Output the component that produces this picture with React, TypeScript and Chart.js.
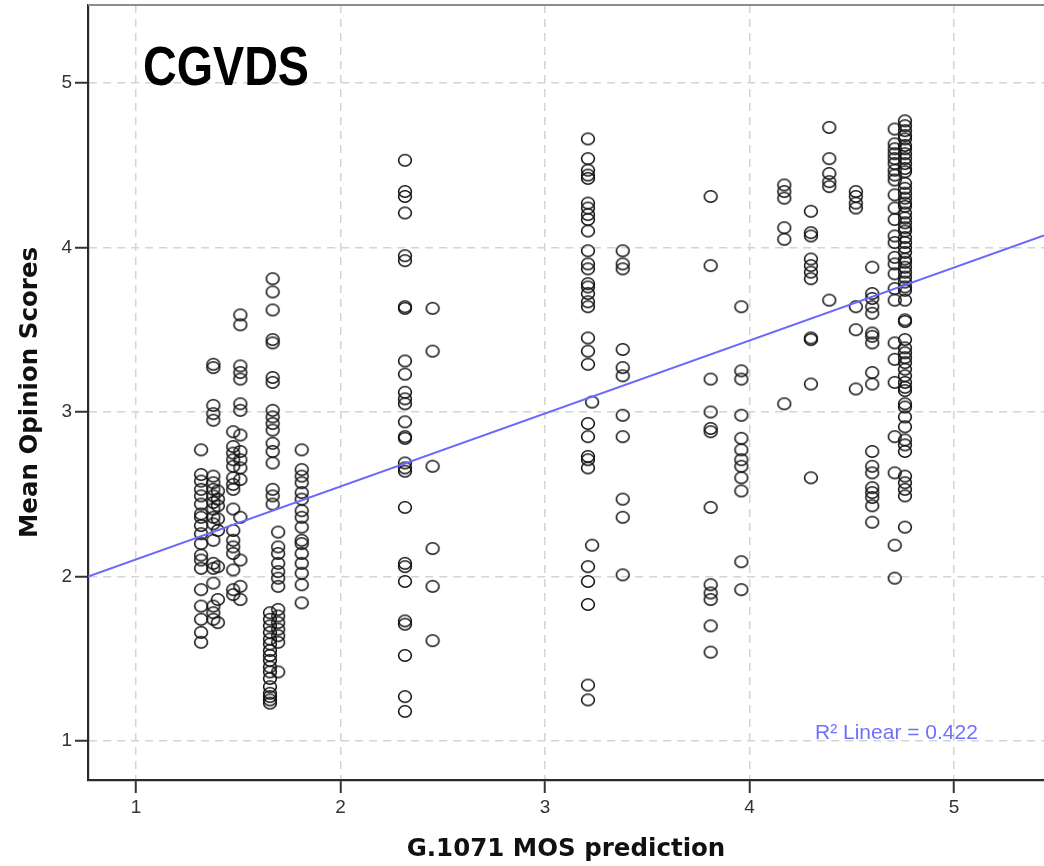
import React, { useEffect, useRef } from "react";
import { Chart, registerables } from "chart.js";

Chart.register(...registerables);

// ---- axes ----
const X_TICKS = [1, 2, 3, 4, 5];
const Y_TICKS = [1, 2, 3, 4, 5];
const X_MIN = 0.765;
const X_MAX = 5.44;
const Y_MIN = 0.763;
const Y_MAX = 5.474;
const X_TITLE = "G.1071 MOS prediction";
const Y_TITLE = "Mean Opinion Scores";
const PANEL_LABEL = "CGVDS";
const R2_LABEL = "R\u00B2 Linear = 0.422";

// ---- linear fit ----
const FIT_INTERCEPT = 1.661;
const FIT_SLOPE = 0.4435;

// ---- scatter columns: x position of each column ----
const COLUMN_X = [
  1.318, 1.378, 1.4, 1.475, 1.51, 1.668, 1.695, 1.655, 1.81,
  2.315, 2.45,
  3.21, 3.23, 3.38, 3.81, 3.96,
  4.17, 4.3, 4.39, 4.52, 4.6, 4.71, 4.76,
];

// ---- scatter columns: MOS values of each column ----
const colA = [2.77, 2.62, 2.58, 2.53, 2.49, 2.44, 2.38, 2.36, 2.31, 2.26, 2.2, 2.13, 2.1, 2.05, 1.92, 1.82, 1.74, 1.66, 1.6];
const colB1 = [3.29, 3.27, 3.04, 2.99, 2.95, 2.61, 2.57, 2.53, 2.49, 2.45, 2.41, 2.36, 2.32, 2.22, 2.08, 2.05, 1.96, 1.82, 1.78, 1.74];
const colB2 = [2.52, 2.47, 2.43, 2.35, 2.28, 2.06, 1.86, 1.72];
const colC1 = [2.88, 2.79, 2.75, 2.71, 2.67, 2.6, 2.56, 2.53, 2.41, 2.28, 2.22, 2.18, 2.14, 2.04, 1.92, 1.89];
const colC2 = [3.59, 3.53, 3.28, 3.24, 3.2, 3.05, 3.01, 2.86, 2.76, 2.71, 2.66, 2.59, 2.36, 2.1, 1.94, 1.86];
const colD1 = [3.81, 3.73, 3.62, 3.44, 3.42, 3.21, 3.18, 3.01, 2.97, 2.93, 2.89, 2.81, 2.76, 2.69, 2.53, 2.49, 2.44];
const colD2 = [2.27, 2.18, 2.14, 2.08, 2.03, 1.99, 1.94, 1.8, 1.76, 1.72, 1.68, 1.64, 1.6, 1.42];
const colD3 = [1.78, 1.74, 1.7, 1.66, 1.62, 1.59, 1.55, 1.52, 1.49, 1.45, 1.42, 1.38, 1.33, 1.29, 1.27, 1.25, 1.23];
const colE = [2.77, 2.65, 2.61, 2.57, 2.51, 2.47, 2.4, 2.36, 2.3, 2.22, 2.2, 2.14, 2.08, 2.02, 1.95, 1.84];
const colF = [4.53, 4.34, 4.31, 4.21, 3.95, 3.92, 3.64, 3.63, 3.31, 3.23, 3.12, 3.08, 3.05, 2.94, 2.85, 2.84, 2.69, 2.66, 2.64, 2.42, 2.08, 2.06, 1.97, 1.73, 1.71, 1.52, 1.27, 1.18];
const colG = [3.63, 3.37, 2.67, 2.17, 1.94, 1.61];
const colH1 = [4.66, 4.54, 4.47, 4.44, 4.42, 4.27, 4.24, 4.2, 4.17, 4.1, 3.98, 3.9, 3.87, 3.78, 3.76, 3.72, 3.67, 3.64, 3.45, 3.37, 3.29, 2.93, 2.85, 2.73, 2.71, 2.66, 2.06, 1.97, 1.83, 1.34, 1.25];
const colH2 = [3.06, 2.19];
const colI = [3.98, 3.9, 3.87, 3.38, 3.27, 3.22, 2.98, 2.85, 2.47, 2.36, 2.01];
const colJ = [4.31, 3.89, 3.2, 3.0, 2.9, 2.88, 2.42, 1.95, 1.9, 1.86, 1.7, 1.54];
const colK = [3.64, 3.25, 3.2, 2.98, 2.84, 2.77, 2.71, 2.67, 2.6, 2.52, 2.09, 1.92];
const colL = [4.38, 4.34, 4.3, 4.12, 4.05, 3.05];
const colM = [4.22, 4.09, 4.07, 3.93, 3.89, 3.85, 3.81, 3.45, 3.44, 3.17, 2.6];
const colN = [4.73, 4.54, 4.45, 4.4, 4.37, 3.68];
const colO = [4.34, 4.31, 4.27, 4.24, 3.64, 3.5, 3.14];
const colP = [3.88, 3.72, 3.69, 3.64, 3.6, 3.48, 3.46, 3.42, 3.24, 3.17, 2.76, 2.67, 2.63, 2.54, 2.51, 2.48, 2.43, 2.33];
const colQ1 = [4.72, 4.63, 4.6, 4.57, 4.54, 4.51, 4.47, 4.44, 4.41, 4.32, 4.24, 4.17, 4.07, 4.03, 3.94, 3.9, 3.84, 3.75, 3.68, 3.42, 3.32, 3.18, 2.85, 2.63, 2.19, 1.99];
const colQ2 = [4.77, 4.74, 4.71, 4.68, 4.66, 4.62, 4.6, 4.57, 4.54, 4.51, 4.48, 4.46, 4.39, 4.36, 4.33, 4.3, 4.27, 4.25, 4.21, 4.18, 4.15, 4.12, 4.1, 4.06, 4.03, 4.0, 3.97, 3.93, 3.91, 3.88, 3.85, 3.82, 3.79, 3.76, 3.74, 3.68, 3.56, 3.55, 3.44, 3.39, 3.36, 3.33, 3.3, 3.26, 3.22, 3.18, 3.15, 3.13, 3.05, 3.03, 2.97, 2.91, 2.83, 2.8, 2.76, 2.61, 2.57, 2.53, 2.49, 2.3];

const COLUMN_Y = [
  colA, colB1, colB2, colC1, colC2, colD1, colD2, colD3, colE,
  colF, colG,
  colH1, colH2, colI, colJ, colK,
  colL, colM, colN, colO, colP, colQ1, colQ2,
];

const FIT_COLOR = "rgb(105,105,255)";
const LABEL_COLOR = "rgb(112,112,255)";

function makeRing(): HTMLCanvasElement {
  const c = document.createElement("canvas");
  c.width = 16;
  c.height = 15;
  const g = c.getContext("2d")!;
  g.strokeStyle = "#141414";
  g.lineWidth = 1.55;
  g.beginPath();
  g.ellipse(8, 7.5, 6.4, 5.7, 0, 0, Math.PI * 2);
  g.stroke();
  return c;
}

const decorPlugin = {
  id: "decor",
  afterDraw(chart: any) {
    const { ctx, chartArea } = chart;
    ctx.save();
    // top frame line
    ctx.strokeStyle = "#8c8c8c";
    ctx.lineWidth = 2;
    ctx.beginPath();
    ctx.moveTo(chartArea.left, chartArea.top);
    ctx.lineTo(chartArea.right, chartArea.top);
    ctx.stroke();

    // panel label
    ctx.fillStyle = "#000";
    ctx.font = 'bold 56px "Liberation Sans", Arial, sans-serif';
    ctx.textBaseline = "alphabetic";
    ctx.textAlign = "left";
    const w = ctx.measureText(PANEL_LABEL).width;
    const targetW = 166;
    ctx.save();
    ctx.translate(chartArea.left + 55, chartArea.top + 80);
    ctx.scale(targetW / w, 1);
    ctx.fillText(PANEL_LABEL, 0, 0);
    ctx.restore();

    // R2 label
    ctx.fillStyle = LABEL_COLOR;
    ctx.font = '21px "Liberation Sans", Arial, sans-serif';
    ctx.fillText(R2_LABEL, chartArea.left + 727, chartArea.bottom - 41);
    ctx.restore();
  },
};

function zeroPad(s: any) {
  s.paddingLeft = 0;
  s.paddingRight = 0;
  s.paddingTop = 0;
  s.paddingBottom = 0;
}

export default function App() {
  const ref = useRef<HTMLCanvasElement | null>(null);

  useEffect(() => {
    if (!ref.current) return;
    const ring = makeRing();
    const points: { x: number; y: number }[] = [];
    COLUMN_Y.forEach((ys, i) => {
      ys.forEach((y) => points.push({ x: COLUMN_X[i], y }));
    });
    const fitLine = [X_MIN, X_MAX].map((x) => ({ x, y: FIT_INTERCEPT + FIT_SLOPE * x }));

    const tickFont = { family: '"Liberation Sans", Arial, sans-serif', size: 19 };
    const titleFont = { family: '"DejaVu Sans", sans-serif', size: 24.5, weight: "bold" as const };

    const chart = new Chart(ref.current, {
      type: "scatter",
      data: {
        datasets: [
          {
            type: "line",
            data: fitLine,
            borderColor: FIT_COLOR,
            borderWidth: 2,
            pointRadius: 0,
            fill: false,
            order: 0,
          } as any,
          {
            type: "scatter",
            data: points,
            pointStyle: ring as any,
            pointRadius: 6,
            borderColor: "#141414",
            backgroundColor: "rgba(0,0,0,0)",
            order: 1,
          },
        ],
      },
      options: {
        responsive: false,
        animation: false,
        devicePixelRatio: 1,
        layout: { autoPadding: false, padding: { top: 5, left: 0, right: 0, bottom: 0 } },
        plugins: { legend: { display: false }, tooltip: { enabled: false } },
        scales: {
          x: {
            type: "linear",
            min: X_MIN,
            max: X_MAX,
            afterBuildTicks: (s: any) => {
              s.ticks = X_TICKS.map((v) => ({ value: v }));
            },
            afterFit: (s: any) => {
              s.height = 86;
              zeroPad(s);
            },
            ticks: {
              font: tickFont,
              color: "#333",
              padding: 3,
              autoSkip: false,
              maxRotation: 0,
              callback: (v: any) => String(v),
            },
            grid: {
              color: "#d4d4d4",
              lineWidth: 1.5,
              tickColor: "#333",
              tickLength: 13,
              tickWidth: 2,
            },
            border: { color: "#2a2a2a", width: 2.2, dash: [8, 6] },
            title: {
              display: true,
              text: X_TITLE,
              font: titleFont,
              color: "#111",
              padding: { top: 0, bottom: 2 },
            },
          },
          y: {
            type: "linear",
            min: Y_MIN,
            max: Y_MAX,
            afterBuildTicks: (s: any) => {
              s.ticks = Y_TICKS.map((v) => ({ value: v }));
            },
            afterFit: (s: any) => {
              s.width = 88;
              zeroPad(s);
            },
            ticks: {
              font: tickFont,
              color: "#333",
              padding: 3,
              autoSkip: false,
              callback: (v: any) => String(v),
            },
            grid: {
              color: "#d4d4d4",
              lineWidth: 1.5,
              tickColor: "#333",
              tickLength: 13,
              tickWidth: 2,
            },
            border: { color: "#2a2a2a", width: 2.2, dash: [8, 6] },
            title: {
              display: true,
              text: Y_TITLE,
              font: titleFont,
              color: "#111",
              padding: { top: 16, bottom: 0 },
            },
          },
        },
      },
      plugins: [decorPlugin],
    });
    return () => chart.destroy();
  }, []);

  return (
    <div style={{ position: "absolute", left: 0, top: 0, width: 1044, height: 866, background: "#fff" }}>
      <canvas ref={ref} width={1044} height={866} style={{ width: 1044, height: 866, display: "block" }} />
    </div>
  );
}
